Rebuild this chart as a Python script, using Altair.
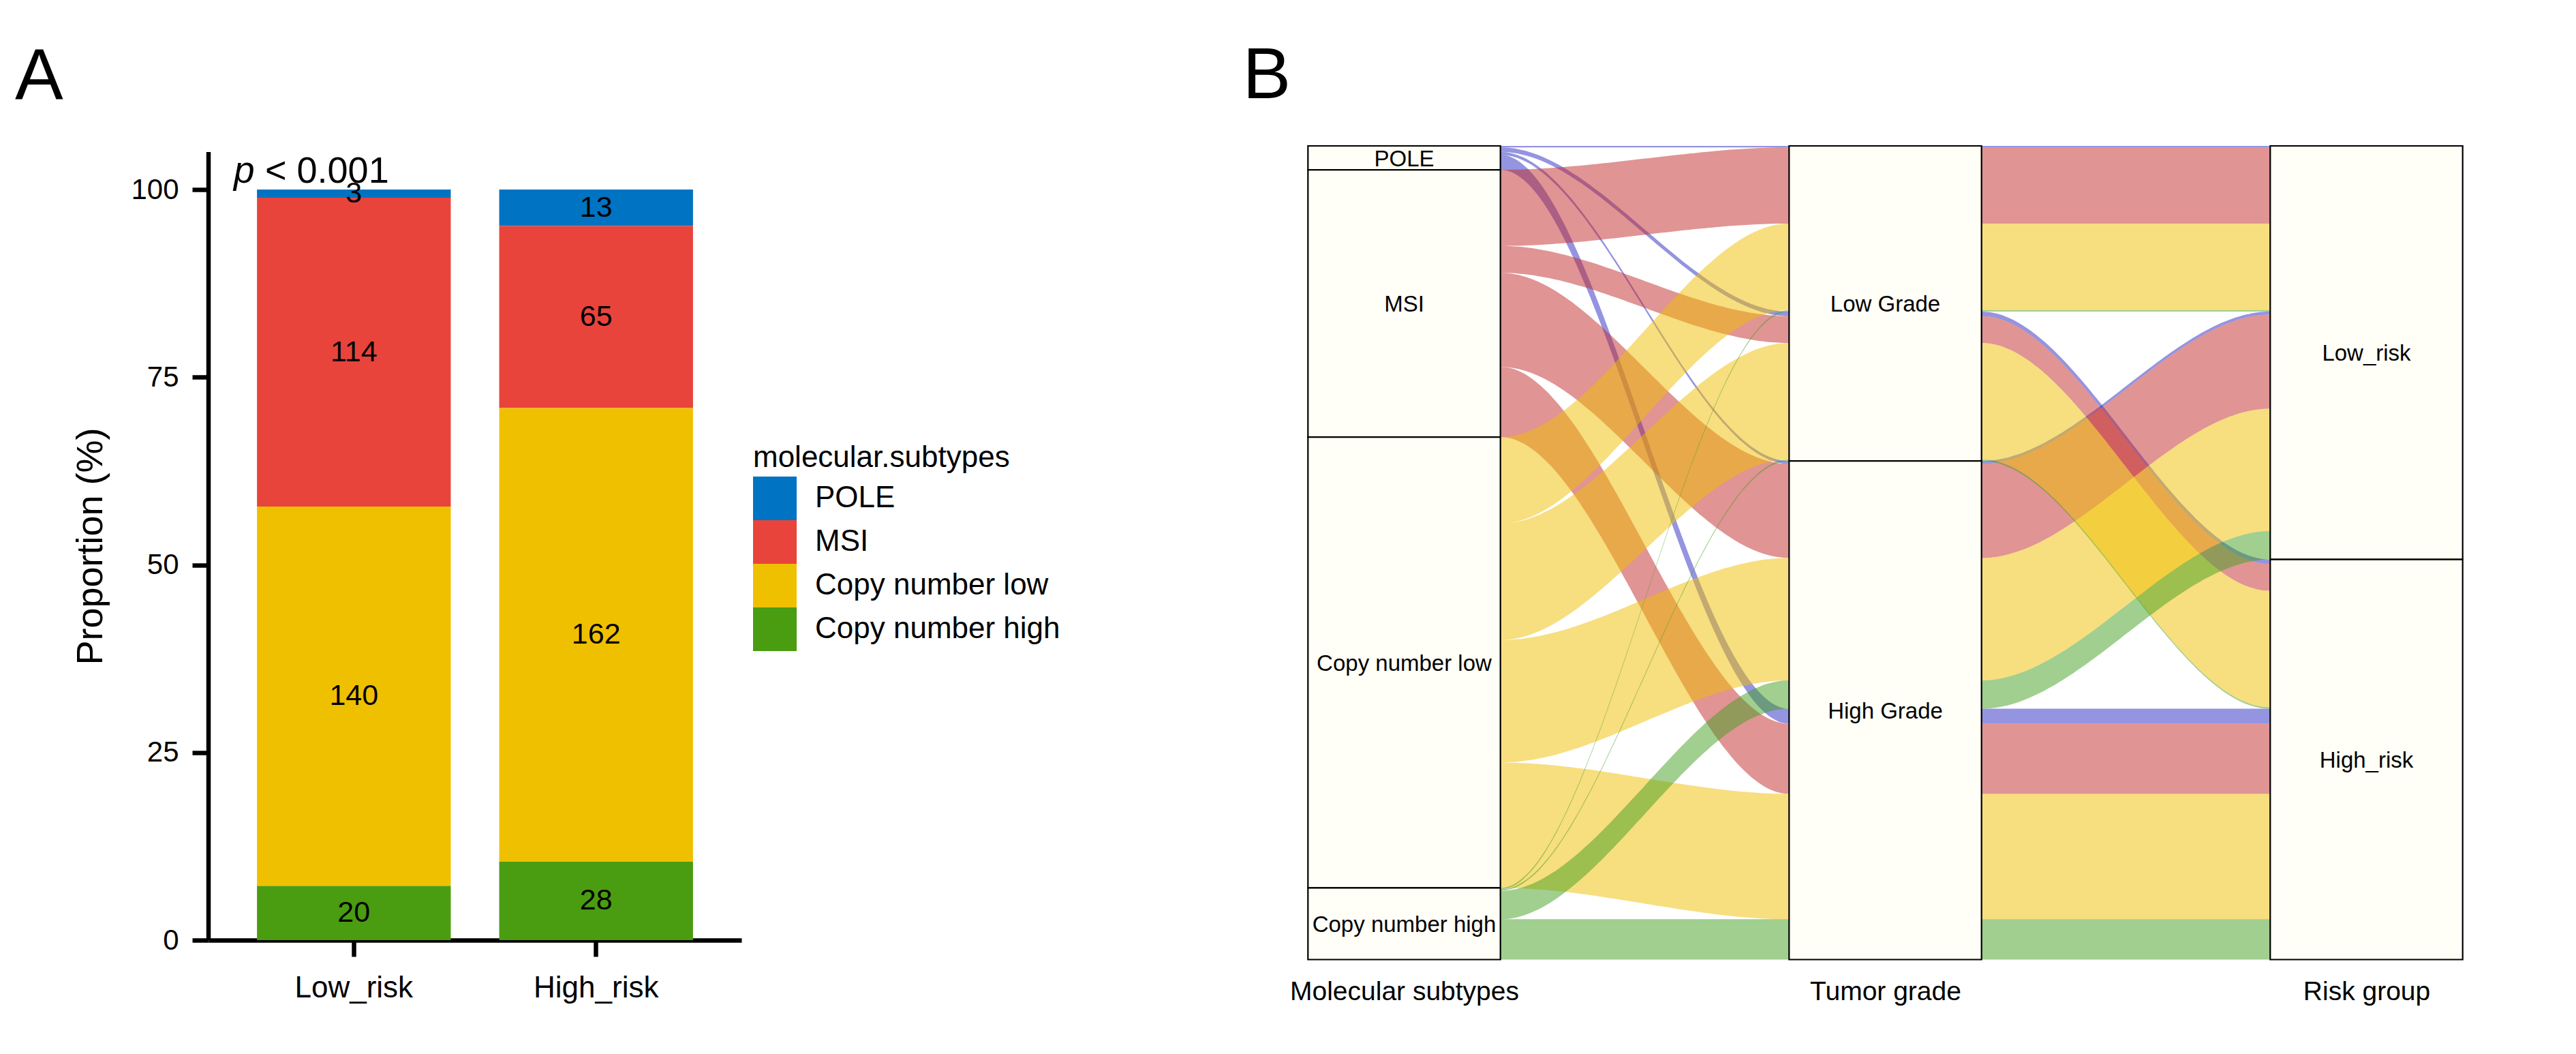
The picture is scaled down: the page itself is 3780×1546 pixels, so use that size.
import altair as alt
import pandas as pd

FONT = "Liberation Sans"

# ---------------- data: panel A ----------------
risk_groups = ["Low_risk", "High_risk"]
subtypes = ["POLE", "MSI", "Copy number low", "Copy number high"]
low_risk_counts = [3, 114, 140, 20]
high_risk_counts = [13, 65, 162, 28]
bar_colors = ["#0073C2", "#E8443C", "#EFC000", "#4A9C11"]
p_prefix = "p"
p_rest = "< 0.001"

# ---------------- data: panel B (alluvial) ----------------
grades = ["Low Grade", "High Grade"]
combo_grade = ["Low Grade", "Low Grade", "High Grade", "High Grade"]
combo_risk = ["Low_risk", "High_risk", "Low_risk", "High_risk"]
pole_flows = [1, 3, 2, 10]
msi_flows = [51, 18, 63, 47]
cnl_flows = [58, 78, 82, 84]
cnh_flows = [1, 1, 19, 27]
flow_colors = ["#2A2AC2", "#C22A2A", "#EFBE00", "#42A020"]
axis_names = ["Molecular subtypes", "Tumor grade", "Risk group"]

# ---------------- tables ----------------
bar_rows = []
for r, counts in zip(risk_groups, [low_risk_counts, high_risk_counts]):
    for i, (s, c) in enumerate(zip(subtypes, counts)):
        bar_rows.append({"risk": r, "subtype": s, "n": c, "rank": len(subtypes) - i})
bars_df = pd.DataFrame(bar_rows)

flow_table = [pole_flows, msi_flows, cnl_flows, cnh_flows]
combos = []
for si, s in enumerate(subtypes):
    for k in range(len(combo_grade)):
        combos.append({
            "subtype": s, "si": si,
            "grade": combo_grade[k], "gi": grades.index(combo_grade[k]),
            "risk": combo_risk[k], "ri": risk_groups.index(combo_risk[k]),
            "n": flow_table[si][k],
        })

# lode ordering at each axis (as in ggalluvial)
orders = [
    lambda c: (c["si"], c["gi"], c["ri"]),
    lambda c: (c["gi"], c["ri"], c["si"]),
    lambda c: (c["ri"], c["gi"], c["si"]),
]
positions = []
total_n = 0
for key in orders:
    pos = {}
    acc = 0
    for idx in sorted(range(len(combos)), key=lambda j: key(combos[j])):
        pos[idx] = (acc, acc + combos[idx]["n"])
        acc += combos[idx]["n"]
    positions.append(pos)
    total_n = acc

HALF = 0.2
ribbon_rows = []
for p in range(2):
    for idx, c in enumerate(combos):
        a0, a1 = positions[p][idx]
        b0, b1 = positions[p + 1][idx]
        ribbon_rows.append({
            "rid": f"{p}-{idx}", "subtype": c["subtype"],
            "xs": p + 1 + HALF, "xe": p + 2 - HALF,
            "a0": a0, "a1": a1, "b0": b0, "b1": b1,
        })
ribbons_df = pd.DataFrame(ribbon_rows)

strata_rows = []
for ai, (labs, field) in enumerate([(subtypes, "subtype"), (grades, "grade"), (risk_groups, "risk")]):
    acc = 0
    for lab in labs:
        n = sum(c["n"] for c in combos if c[field] == lab)
        strata_rows.append({
            "axis": ai + 1, "label": lab,
            "x0": ai + 1 - HALF, "x1": ai + 1 + HALF,
            "y0": acc, "y1": acc + n, "ymid": acc + n / 2,
        })
        acc += n
strata_df = pd.DataFrame(strata_rows)

# ---------------- panel A ----------------
A_W, A_H = 782, 1165
Y_LINE_TOP = 105          # panel limit where the y axis line ends
Y_MAX = 105.818           # plot area slightly taller so both panels share a top edge

x_a = alt.X(
    "risk:N", sort=risk_groups,
    scale=alt.Scale(paddingInner=0.2, paddingOuter=0.2),
    axis=alt.Axis(title=None, labelAngle=0, labelFontSize=44, labelColor="black",
                  labelFont=FONT, labelPadding=24, labelLimit=800, tickSize=24, tickWidth=6.5,
                  tickColor="black", domainWidth=6.5, domainColor="black", grid=False),
)
y_axis_a = alt.Axis(
    values=[0, 25, 50, 75, 100], title="Proportion (%)", titleFontSize=54,
    titleFontWeight="normal", titleColor="black", titleFont=FONT,
    titleX=-146, titleY=587, titleAngle=270, titleBaseline="bottom", titleAlign="center",
    labelFontSize=42, labelColor="black", labelFont=FONT, labelPadding=20,
    tickSize=24, tickWidth=6.5, tickColor="black", domain=False, grid=False,
)
y_scale_a = alt.Scale(domain=[0, Y_MAX], nice=False, zero=False)

legend_a = alt.Legend(
    title="molecular.subtypes", orient="none", legendX=799, legendY=436,
    titleFontSize=44, titleFontWeight="normal", titleColor="black", titleFont=FONT,
    labelFontSize=44, labelColor="black", labelFont=FONT,
    symbolType="square", symbolSize=4096, symbolStrokeWidth=0, symbolOpacity=1,
    rowPadding=0, labelOffset=27, titlePadding=5, padding=0,
    labelLimit=800, titleLimit=800,
)

base_a = (
    alt.Chart(bars_df)
    .transform_joinaggregate(total="sum(n)", groupby=["risk"])
    .transform_calculate(pct="100 * datum.n / datum.total")
    .transform_stack(stack="pct", groupby=["risk"], as_=["y0", "y1"],
                     sort=[alt.SortField(field="rank", order="ascending")])
    .transform_calculate(ymid="(datum.y0 + datum.y1) / 2")
)

bars = base_a.mark_bar().encode(
    x=x_a,
    y=alt.Y("y0:Q", scale=y_scale_a, axis=y_axis_a),
    y2="y1:Q",
    color=alt.Color("subtype:N", scale=alt.Scale(domain=subtypes, range=bar_colors), legend=legend_a),
)
bar_text = base_a.mark_text(fontSize=43, color="black", font=FONT, baseline="middle").encode(
    x=x_a,
    y=alt.Y("ymid:Q", scale=y_scale_a, axis=y_axis_a),
    text="n:Q",
)

y_line = alt.Chart(pd.DataFrame({"lo": [0], "hi": [Y_LINE_TOP]})).mark_rule(
    color="black", strokeWidth=6.5
).encode(
    x=alt.value(0),
    y=alt.Y("lo:Q", scale=y_scale_a, axis=y_axis_a),
    y2="hi:Q",
)

tag_a = alt.Chart(pd.DataFrame({"t": ["A"]})).mark_text(
    align="left", baseline="alphabetic", fontSize=106, font=FONT, color="black"
).encode(x=alt.value(-284), y=alt.value(-69), text="t:N")

p1 = alt.Chart(pd.DataFrame({"t": [p_prefix]})).mark_text(
    align="left", baseline="alphabetic", fontSize=55, font=FONT, fontStyle="italic", color="black"
).encode(x=alt.value(37), y=alt.value(54), text="t:N")
p2 = alt.Chart(pd.DataFrame({"t": [p_rest]})).mark_text(
    align="left", baseline="alphabetic", fontSize=54, font=FONT, color="black"
).encode(x=alt.value(83), y=alt.value(54), text="t:N")

panel_a = alt.layer(bars, bar_text, y_line, tag_a, p1, p2).properties(width=A_W, height=A_H)

# ---------------- panel B ----------------
B_W, B_H = 1765, 1193.5
xs_b = alt.Scale(domain=[0.75, 3.25], nice=False, zero=False)
ys_b = alt.Scale(domain=[0, total_n], nice=False, zero=False, reverse=True)
label_expr = " : ".join(f"datum.value == {i + 1} ? '{n}'" for i, n in enumerate(axis_names[:-1]))
label_expr += f" : '{axis_names[-1]}'"
x_axis_b = alt.Axis(
    values=[1, 2, 3], labelExpr=label_expr, ticks=False, tickSize=0, domain=False, grid=False,
    labelFontSize=39, labelPadding=28, labelColor="black", labelFont=FONT, title=None,
    labelLimit=800, labelFlush=False, labelOverlap=False,
)

ribbon_layers = []
for s, col in zip(subtypes, flow_colors):
    ribbon_layers.append(
        alt.Chart(ribbons_df)
        .transform_filter(alt.datum.subtype == s)
        .transform_calculate(t="sequence(0, 1.0001, 0.02)")
        .transform_flatten(["t"])
        .transform_calculate(sm="datum.t * datum.t * (3 - 2 * datum.t)")
        .transform_calculate(
            px="datum.xs + datum.t * (datum.xe - datum.xs)",
            ytop="datum.a0 + datum.sm * (datum.b0 - datum.a0)",
            ybot="datum.a1 + datum.sm * (datum.b1 - datum.a1)",
        )
        .mark_area(color=col, opacity=0.5, interpolate="monotone")
        .encode(
            x=alt.X("px:Q", scale=xs_b, axis=x_axis_b),
            y=alt.Y("ytop:Q", scale=ys_b, axis=None, stack=False),
            y2="ybot:Q",
            detail="rid:N",
        )
    )

strata_rects = alt.Chart(strata_df).mark_rect(
    fill="#FFFEF7", stroke="black", strokeWidth=2.2
).encode(
    x=alt.X("x0:Q", scale=xs_b, axis=x_axis_b), x2="x1:Q",
    y=alt.Y("y0:Q", scale=ys_b, axis=None), y2="y1:Q",
)
strata_text = alt.Chart(strata_df).mark_text(
    fontSize=33, font=FONT, color="black", baseline="middle", dy=2
).encode(
    x=alt.X("axis:Q", scale=xs_b, axis=x_axis_b),
    y=alt.Y("ymid:Q", scale=ys_b, axis=None),
    text="label:N",
)
tag_b = alt.Chart(pd.DataFrame({"t": ["B"]})).mark_text(
    align="left", baseline="alphabetic", fontSize=106, font=FONT, color="black"
).encode(x=alt.value(-60.5), y=alt.value(-70), text="t:N")

panel_b = alt.layer(*ribbon_layers, strata_rects, strata_text, tag_b).properties(width=B_W, height=B_H)

chart = (
    alt.hconcat(panel_a, panel_b, spacing=267)
    .resolve_scale(color="independent")
    .resolve_legend(color="independent")
    .properties(padding={"left": 14, "top": 51, "right": 0, "bottom": 0})
    .configure(font=FONT)
    .configure_view(stroke=None)
)

chart.save("out.html", embed_options={"renderer": "svg", "actions": False})
